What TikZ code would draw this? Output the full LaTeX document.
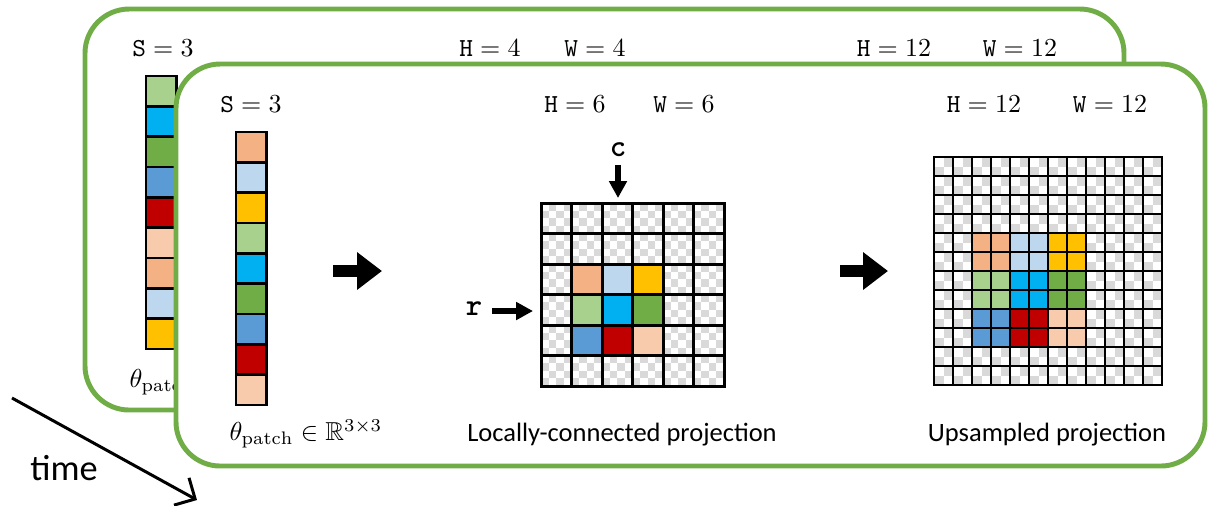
\documentclass[tikz,border=0pt]{standalone}
\usepackage{amssymb}
\usepackage{fontspec}
\newfontfamily\carlito{Carlito}
\usetikzlibrary{arrows.meta}

\definecolor{cardgreen}{HTML}{70AD47}
\definecolor{checkgrey}{HTML}{D9D9D9}
\definecolor{pA}{HTML}{F4B183}
\definecolor{pB}{HTML}{BDD7EE}
\definecolor{pC}{HTML}{FFC000}
\definecolor{pD}{HTML}{A9D18E}
\definecolor{pE}{HTML}{00B0F0}
\definecolor{pF}{HTML}{70AD47}
\definecolor{pG}{HTML}{5B9BD5}
\definecolor{pH}{HTML}{C00000}
\definecolor{pI}{HTML}{F8CBAD}

\tikzset{
  card/.style={draw=cardgreen, line width=1.9pt, rounded corners=17pt, fill=white},
  cellbox/.style={draw=black, line width=0.95pt},
  gridline/.style={draw=black, line width=#1},
  blockarrow/.style={line width=4.6pt, -{Triangle[length=9.6pt,width=13.9pt]}},
  smallarrow/.style={line width=2.4pt, -{Triangle[length=6.5pt,width=6.6pt]}},
  timearrow/.style={line width=1.15pt, -{Straight Barb[length=6pt,width=12pt,line width=1.15pt]}},
  mathlabel/.style={inner sep=0pt},
  caption/.style={font=\carlito\fontsize{10.2}{12}\selectfont, inner sep=0pt},
  axislabel/.style={font=\ttfamily\bfseries\fontsize{12}{14}\selectfont, inner sep=0pt},
  timelabel/.style={font=\carlito\fontsize{14}{16}\selectfont, inner sep=0pt},
}

% vertical parameter vector: left x, top y, list of cell colours
\newcommand\patchcolumn[3]{%
  \foreach \cc [count=\k from 0] in {#3}{
    \draw[cellbox, fill=\cc] ({#1},{#2+\k*30.33}) rectangle ++(30.5,30.33);
  }}

% checkerboard background: left x, top y, cells, cell size, squares per cell
\newcommand\checkerboard[5]{%
  \fill[white] ({#1},{#2}) rectangle ++({#3*#4},{#3*#4});
  \pgfmathsetmacro\sq{#4/#5}
  \pgfmathtruncatemacro\mx{#3*#5-1}
  \foreach \i in {0,...,\mx}{
    \foreach \j in {0,...,\mx}{
      \pgfmathtruncatemacro\odd{mod(\i+\j,2)}
      \ifnum\odd=1
        \fill[checkgrey] ({#1+\i*\sq},{#2+\j*\sq}) rectangle ++(\sq,\sq);
      \fi
    }
  }}

% grid lines: left x, top y, cells, cell size, line width
\newcommand\gridlines[5]{%
  \foreach \i in {0,...,#3}{
    \draw[gridline=#5, line cap=rect] ({#1+\i*#4},{#2}) -- ++(0,{#3*#4});
    \draw[gridline=#5, line cap=rect] ({#1},{#2+\i*#4}) -- ++({#3*#4},0);
  }}

\begin{document}
\begin{tikzpicture}[x=0.385pt,y=-0.385pt]
\useasboundingbox (0,0) rectangle (1210,505);

% ---------- earlier time step (back card) ----------
\draw[card] (85,9) rectangle (1124,410);
\node[mathlabel] (backS) at (163,48) {$\mathtt{S}=3$};
\node[mathlabel] (backH) at (490,48) {$\mathtt{H}=4$};
\node[mathlabel] (backW) at (595,48) {$\mathtt{W}=4$};
\node[mathlabel] (backHup) at (894,48) {$\mathtt{H}=12$};
\node[mathlabel] (backWup) at (1020,48) {$\mathtt{W}=12$};
\patchcolumn{146}{76}{pD,pE,pF,pG,pH,pI,pA,pB,pC}
\node[mathlabel, anchor=west] (backTheta) at (129,381) {$\theta_{\mathrm{patch}}\in\mathbb{R}^{3\times3}$};

% ---------- current time step (front card) ----------
\draw[card] (176,64) rectangle (1205,466);
\node[mathlabel] (frontS) at (251,104) {$\mathtt{S}=3$};
\patchcolumn{236}{132}{pA,pB,pC,pD,pE,pF,pG,pH,pI}
\node[mathlabel, anchor=west] (frontTheta) at (229,434) {$\theta_{\mathrm{patch}}\in\mathbb{R}^{3\times3}$};

% projection arrow
\coordinate (projA) at (333,271);
\coordinate (projB) at (382,271);
\draw[blockarrow] (projA) -- (projB);

% locally-connected 6x6 grid
\node[mathlabel] (gridH) at (575,104) {$\mathtt{H}=6$};
\node[mathlabel] (gridW) at (684,104) {$\mathtt{W}=6$};
\checkerboard{541}{203}{6}{30.5}{4}
\foreach \cc [count=\k from 0] in {pA,pB,pC,pD,pE,pF,pG,pH,pI}{
  \pgfmathtruncatemacro\rr{div(\k,3)}
  \pgfmathtruncatemacro\qq{mod(\k,3)}
  \fill[\cc] ({541+(\qq+1)*30.5},{203+(\rr+2)*30.5}) rectangle ++(30.5,30.5);
}
\gridlines{541}{203}{6}{30.5}{1.15pt}
\node[axislabel] (colC) at (618,150) {c};
\coordinate (colTop) at (618,165);
\coordinate (colTip) at (618,198);
\draw[smallarrow] (colTop) -- (colTip);
\node[axislabel] (rowR) at (474,309) {r};
\coordinate (rowStart) at (492,311);
\coordinate (rowTip) at (533,311);
\draw[smallarrow] (rowStart) -- (rowTip);
\node[caption] (capLocal) at (622,435) {Locally-connected projection};

% upsampling arrow
\coordinate (upA) at (840,271);
\coordinate (upB) at (888,271);
\draw[blockarrow] (upA) -- (upB);

% upsampled 12x12 grid
\node[mathlabel] (upH) at (984,104) {$\mathtt{H}=12$};
\node[mathlabel] (upW) at (1110,104) {$\mathtt{W}=12$};
\checkerboard{934}{157}{12}{19}{2}
\foreach \cc [count=\k from 0] in {pA,pB,pC,pD,pE,pF,pG,pH,pI}{
  \pgfmathtruncatemacro\rr{div(\k,3)}
  \pgfmathtruncatemacro\qq{mod(\k,3)}
  \fill[\cc] ({934+(2*\qq+2)*19},{157+(2*\rr+4)*19}) rectangle ++(38,38);
}
\gridlines{934}{157}{12}{19}{0.95pt}
\node[caption] (capUp) at (1047,435) {Upsampled projection};

% time axis
\coordinate (timeStart) at (12,398);
\coordinate (timeEnd) at (197,500);
\draw[timearrow] (timeStart) -- (timeEnd);
\node[timelabel] (timeLabel) at (64,468) {time};
\end{tikzpicture}
\end{document}
